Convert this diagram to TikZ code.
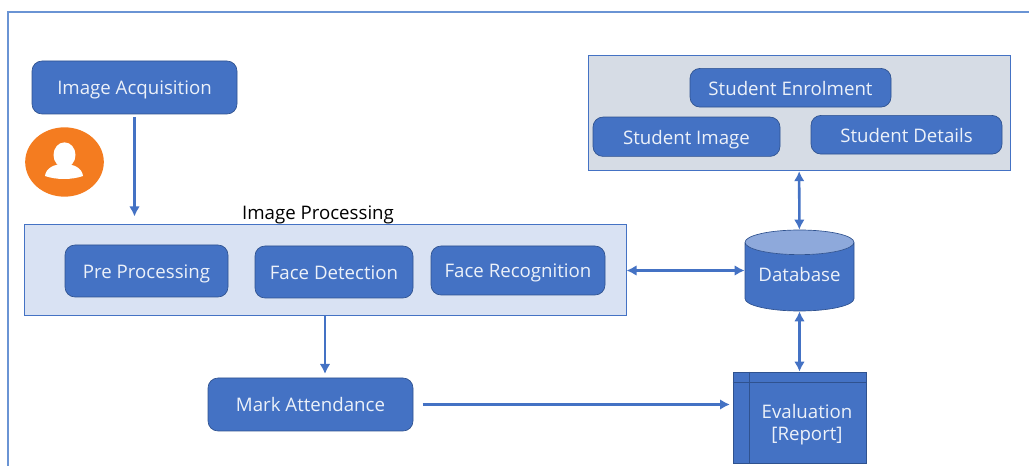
\documentclass[tikz,border=0pt]{standalone}
\usepackage{fontspec}
\setmainfont{Open Sans}
\usetikzlibrary{arrows.meta,shapes.geometric}
\definecolor{officeblue}{HTML}{4472C4}
\definecolor{darkblue}{HTML}{2F528F}
\definecolor{framecol}{HTML}{6A94D4}
\definecolor{panelone}{HTML}{D9E2F3}
\definecolor{paneltwo}{HTML}{D6DCE5}
\definecolor{dbtop}{HTML}{8EA9DB}
\definecolor{personcol}{HTML}{F47C20}
\begin{document}
\begin{tikzpicture}[x=0.75pt, y=-0.75pt, font=\fontsize{14}{17}\selectfont,
    block/.style={draw=darkblue, fill=officeblue, text=white!90!officeblue, rounded corners=7.5pt, inner sep=0pt, line width=0.5pt, text height=13pt, text depth=2pt},
    panel/.style={draw=officeblue, line width=0.75pt, inner sep=0pt},
    link/.style={officeblue, line width=1.9pt, {Latex[length=7.5pt,width=8pt]}-{Latex[length=7.5pt,width=8pt]}},
    flow/.style={officeblue, line width=1.9pt, -{Latex[length=7.5pt,width=8pt]}}]
    \useasboundingbox (0,0) rectangle (1029,466);
    \draw[framecol, line width=1.2pt] (8,466) -- (8,12) -- (1029,12);
    % panels
    \node[panel, fill=panelone, minimum width=451.5pt, minimum height=68.25pt] (proc) at (325,270.5) {};
    \node[panel, fill=paneltwo, minimum width=316.5pt, minimum height=86.5pt] (student) at (799,113) {};
    \node[text=black] (proclabel) at (318,215) {Image Processing};
    % blocks
    \foreach \name/\x/\y/\w/\h/\txt in {
        acq/134.5/87.5/153.75/39.75/Image Acquisition,
        pre/146.5/271/122.25/39/Pre Processing,
        detect/334/272/118.5/39/Face Detection,
        recog/518/270.5/130.5/36.75/Face Recognition,
        mark/310.5/404.5/153.75/39.75/Mark Attendance,
        enrol/790.5/87.75/150.75/29/Student Enrolment,
        simg/686.5/136.75/140.25/29.5/Student Image,
        sdet/906.5/134.75/143.25/29/Student Details}{
            \node[block, minimum width=\w pt, minimum height=\h pt] (\name) at (\x,\y) {\txt};
    }
    % person
    \node[ellipse, fill=personcol, inner sep=0pt, minimum width=59pt, minimum height=52pt] (person) at (64.5,162) {};
    \node[ellipse, fill=white, inner sep=0pt, minimum width=16.5pt, minimum height=19pt] (head) at (64.5,155) {};
    \fill[white] (45,176) .. controls (46,168) and (54,164) .. (64,164)
        .. controls (74,164) and (82,168) .. (83,176)
        .. controls (72,180) and (56,180) .. (45,176) -- cycle;
    % database
    \node[cylinder, shape border rotate=90, aspect=0.3, anchor=shape center, draw=darkblue, line width=0.5pt, cylinder uses custom fill,
        cylinder body fill=officeblue, cylinder end fill=dbtop, text=white!90!officeblue, inner sep=0pt,
        minimum width=81.75pt, minimum height=60.75pt] (db) at (799.5,270.5) {\raisebox{3pt}{Database}};
    % report
    \node[block, rounded corners=0pt, minimum width=99.75pt, minimum height=68.25pt] (eval) at (799.5,417.5) {};
    \node[text=white!90!officeblue, align=center, font=\fontsize{14}{17}\selectfont] (evaltxt) at (807,424.5) {Evaluation\\{}[Report]};
    \draw[darkblue, line width=0.5pt] (eval.north west) ++(0,11) -- ++(133,0);
    \draw[darkblue, line width=0.5pt] (eval.north west) ++(17,0) -- ++(0,91);
    % connectors
    \foreach \from/\to in {db/student, db/eval}{
        \draw[link] (\from) -- (\to);
    }
    \draw[link] (proc.east) -- (proc.east -| db.west);
    \draw[flow, shorten <=2pt, shorten >=6pt] (acq.south) -- (acq.south |- proc.north);
    \draw[flow, shorten >=3pt] (proc.south -| 325,0) -- (325,378);
    \draw[flow, shorten <=7pt, shorten >=2pt] (mark.east) -- (mark.east -| eval.west);
\end{tikzpicture}
\end{document}
